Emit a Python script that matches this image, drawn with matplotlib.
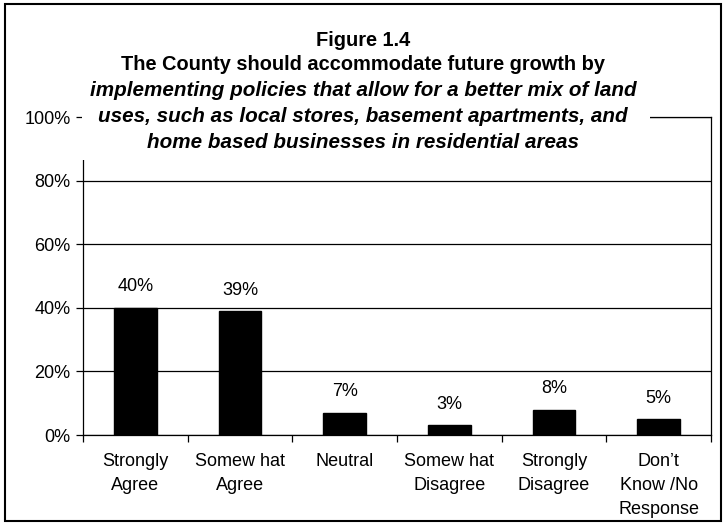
import matplotlib.pyplot as plt
from matplotlib.patches import Rectangle
from matplotlib.ticker import FixedLocator, PercentFormatter

plt.rcParams['font.family'] = ['Liberation Sans', 'DejaVu Sans']

# survey responses, share of respondents
categories = ["Strongly\nAgree", "Somew hat\nAgree", "Neutral",
              "Somew hat\nDisagree", "Strongly\nDisagree",
              "Don\u2019t\nKnow /No\nResponse"]
values = [40, 39, 7, 3, 8, 5]
yticks = [0, 20, 40, 60, 80, 100]

title_lines = [
    ("Figure 1.4", "normal"),
    ("The County should accommodate future growth by", "normal"),
    ("implementing policies that allow for a better mix of land", "italic"),
    ("uses, such as local stores, basement apartments, and", "italic"),
    ("home based businesses in residential areas", "italic"),
]

W, H = 726, 525
fig = plt.figure(figsize=(W / 100, H / 100), dpi=100)
ax = fig.add_axes([83 / W, 1 - 435 / H, (711 - 83) / W, (435 - 117) / H])

x = range(len(values))
ax.bar(x, values, width=0.41, color='black', edgecolor='black', zorder=3)
for i, v in enumerate(values):
    ax.annotate(f"{v}%", (i, v), xytext=(0, 15), textcoords='offset points',
                ha='center', va='center', fontsize=13)

ax.set_xlim(-0.5, len(values) - 0.5)
ax.set_ylim(0, 100)
ax.yaxis.set_major_locator(FixedLocator(yticks))
ax.yaxis.set_major_formatter(PercentFormatter(decimals=0))
ax.yaxis.grid(True, color='black', linewidth=0.9)
ax.set_axisbelow(True)

ax.set_xticks(list(x))
ax.set_xticklabels(categories, fontsize=13, linespacing=1.55, va='top')
ax.set_xticks([i - 0.5 for i in range(len(values) + 1)], minor=True)
ax.tick_params(axis='x', which='major', length=0, pad=13)
ax.tick_params(axis='x', which='minor', length=5, width=0.9, direction='out')
ax.tick_params(axis='y', length=5, width=0.9, direction='out', pad=4,
               labelsize=13)
for s in ax.spines.values():
    s.set_color('black')
    s.set_linewidth(0.9)

# white box behind the title, laid over the top of the plot area
fig.patches.append(Rectangle((82 / W, 1 - 160 / H), (650 - 82) / W, (160 - 22) / H,
                             transform=fig.transFigure, facecolor='white',
                             edgecolor='none', zorder=5))
ys = [40, 65, 91, 117, 142]
for (line, style), y in zip(title_lines, ys):
    size = 14.9 if style == 'italic' else 14.4
    fig.text(363 / W, 1 - y / H, line, ha='center', va='center', fontsize=size,
             fontweight='bold', fontstyle=style, zorder=6)

# outer frame
fig.patches.append(Rectangle((5 / W, 4 / H), (721 - 5) / W, (521 - 4) / H,
                             transform=fig.transFigure, facecolor='none',
                             edgecolor='black', linewidth=1.5, zorder=7))

fig.savefig('out.png', dpi=100)
